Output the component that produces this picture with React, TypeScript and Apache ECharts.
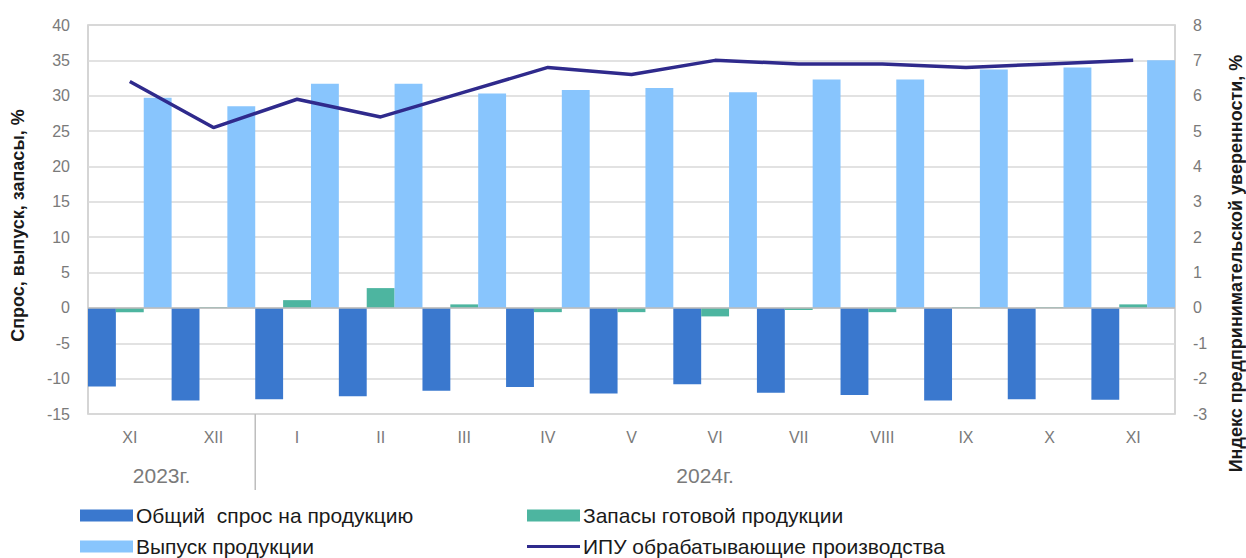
import React, { useEffect, useRef } from "react";
import * as echarts from "echarts";

const categories = ["XI", "XII", "I", "II", "III", "IV", "V", "VI", "VII", "VIII", "IX", "X", "XI"];
const years = [
  { label: "2023г.", from: 0, to: 1 },
  { label: "2024г.", from: 2, to: 12 },
];
const demand = [-11.1, -13.1, -12.9, -12.5, -11.7, -11.2, -12.1, -10.8, -12.0, -12.3, -13.1, -12.9, -13.0];
const stocks = [-0.6, 0.1, 1.1, 2.8, 0.5, -0.6, -0.6, -1.2, -0.3, -0.6, 0.1, 0.1, 0.5];
const output = [29.7, 28.5, 31.7, 31.7, 30.3, 30.8, 31.1, 30.5, 32.3, 32.3, 33.7, 34.0, 35.0];
const ipu = [6.4, 5.1, 5.9, 5.4, 6.1, 6.8, 6.6, 7.0, 6.9, 6.9, 6.8, 6.9, 7.0];

const NAME_DEMAND = "Общий  спрос на продукцию";
const NAME_STOCKS = "Запасы готовой продукции";
const NAME_OUTPUT = "Выпуск продукции";
const NAME_IPU = "ИПУ обрабатывающие производства";

const C_DEMAND = "#3a78ce";
const C_STOCKS = "#4db5a0";
const C_OUTPUT = "#88c5fd";
const C_IPU = "#2f2a8c";

const FONT = "'Liberation Sans', Arial, sans-serif";
const GRAY = "#7a7a7a";

function legendItem(name: string, left: number, top: number, h: number, color: string) {
  return {
    left,
    top,
    itemWidth: 53,
    itemHeight: h,
    data: [{ name, icon: "rect", itemStyle: { color } }],
    textStyle: { fontSize: 21, color: "#1a1a1a", fontFamily: FONT, padding: [0, 0, 0, -2] },
  };
}

export default function App() {
  const ref = useRef<HTMLDivElement>(null);
  useEffect(() => {
    document.body.style.margin = "0";
    if (!ref.current) return;
    const chart = echarts.init(ref.current, undefined, { renderer: "svg" });
    const option: any = {
      animation: false,
      textStyle: { fontFamily: FONT },
      grid: {
        left: 88,
        top: 25,
        right: 71,
        bottom: 144,
        show: true,
        borderColor: "#c8c8c8",
        borderWidth: 1.5,
        containLabel: false,
      },
      legend: [
        legendItem(NAME_DEMAND, 75, 500, 12, C_DEMAND),
        legendItem(NAME_OUTPUT, 75, 531, 12, C_OUTPUT),
        legendItem(NAME_STOCKS, 522, 500, 12, C_STOCKS),
        legendItem(NAME_IPU, 522, 531, 3, C_IPU),
      ],
      xAxis: {
        type: "category",
        data: categories,
        axisLine: { show: false },
        axisTick: { show: false },
        axisLabel: { color: GRAY, fontSize: 16, margin: 15, fontFamily: FONT },
        splitLine: { show: false },
      },
      yAxis: [
        {
          type: "value",
          min: -15,
          max: 40,
          interval: 5,
          axisLine: { show: false },
          axisTick: { show: false },
          axisLabel: { color: GRAY, fontSize: 16, margin: 18, fontFamily: FONT },
          splitLine: { show: true, lineStyle: { color: "#d9d9d9", width: 1.5 } },
        },
        {
          type: "value",
          min: -3,
          max: 8,
          interval: 1,
          position: "right",
          axisLine: { show: false },
          axisTick: { show: false },
          axisLabel: { color: GRAY, fontSize: 16, margin: 18, fontFamily: FONT },
          splitLine: { show: false },
        },
      ],
      series: [
        {
          name: NAME_DEMAND,
          type: "bar",
          data: demand,
          barGap: "0%",
          barCategoryGap: "0%",
          itemStyle: { color: C_DEMAND },
          markLine: {
            silent: true,
            symbol: ["none", "none"],
            label: { show: false },
            lineStyle: { color: "#bdbdbd", width: 1.5, type: "solid" },
            data: [{ yAxis: 0 }],
          },
        },
        {
          name: NAME_STOCKS,
          type: "bar",
          data: stocks,
          barGap: "0%",
          barCategoryGap: "0%",
          itemStyle: { color: C_STOCKS },
        },
        {
          name: NAME_OUTPUT,
          type: "bar",
          data: output,
          barGap: "0%",
          barCategoryGap: "0%",
          itemStyle: { color: C_OUTPUT },
        },
        {
          name: NAME_IPU,
          type: "line",
          yAxisIndex: 1,
          data: ipu,
          symbol: "none",
          z: 5,
          lineStyle: { color: C_IPU, width: 3.5 },
          itemStyle: { color: C_IPU },
        },
      ],
    };
    chart.setOption(option);

    const cx = (i: number) => chart.convertToPixel({ xAxisIndex: 0 }, i) as number;
    const step = cx(1) - cx(0);
    const bottomY = chart.convertToPixel({ yAxisIndex: 0 }, -15) as number;
    const topY = chart.convertToPixel({ yAxisIndex: 0 }, 40) as number;
    const graphics: any[] = [];
    years.forEach((y, k) => {
      const mid = (cx(y.from) + cx(y.to)) / 2 - 10;
      graphics.push({
        type: "text",
        x: mid,
        y: bottomY + 61,
        style: {
          text: y.label,
          fill: GRAY,
          font: `21px ${FONT}`,
          textAlign: "center",
          textVerticalAlign: "middle",
        },
      });
      if (k > 0) {
        const sx = cx(y.from) - step / 2;
        graphics.push({
          type: "line",
          shape: { x1: sx, y1: bottomY, x2: sx, y2: bottomY + 76 },
          style: { stroke: "#bdbdbd", lineWidth: 1.5 },
        });
      }
    });
    const midY = (topY + bottomY) / 2;
    graphics.push({
      type: "text",
      x: 18,
      y: midY + 6,
      rotation: Math.PI / 2,
      style: {
        text: "Спрос, выпуск, запасы, %",
        fill: "#1a1a1a",
        font: `bold 18px ${FONT}`,
        textAlign: "center",
        textVerticalAlign: "middle",
      },
    });
    graphics.push({
      type: "text",
      x: 1236,
      y: midY + 44,
      rotation: Math.PI / 2,
      style: {
        text: "Индекс предпринимательской уверенности, %",
        fill: "#1a1a1a",
        font: `bold 18px ${FONT}`,
        textAlign: "center",
        textVerticalAlign: "middle",
      },
    });
    chart.setOption({ graphic: graphics });

    return () => chart.dispose();
  }, []);
  return <div ref={ref} style={{ width: 1246, height: 558 }} />;
}
